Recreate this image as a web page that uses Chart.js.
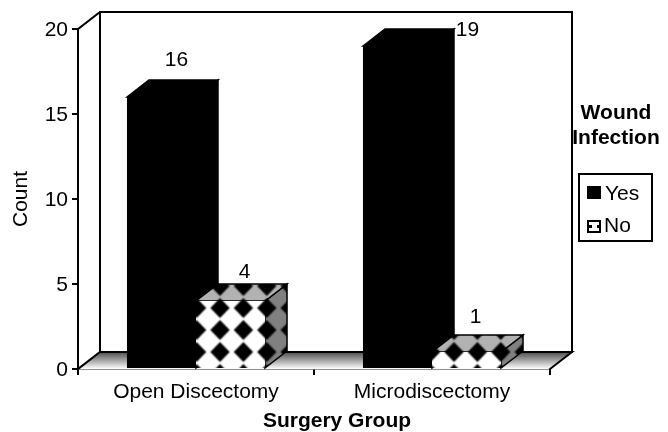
<!DOCTYPE html>
<html>
<head>
<meta charset="utf-8">
<title>Wound infection by surgery group</title>
<script src="https://cdn.jsdelivr.net/npm/chart.js@4"></script>
<style>
  html, body { margin: 0; padding: 0; background: #fff; }
  canvas { display: block; }
</style>
</head>
<body>
<canvas id="chart" width="668" height="432"></canvas>
<script>
/* values */
const categories = ["Open Discectomy", "Microdiscectomy"];
const yes_counts = [16, 19];
const no_counts = [4, 1];
const series_names = ["Yes", "No"];
const y_ticks = [0, 5, 10, 15, 20];

const FONT = "'Liberation Sans', Arial, sans-serif";
const DEPTH_X = 22, DEPTH_Y = 17;
const TILE_W = 23.4, TILE_H = 22;

/* diamond tile: light blobs with black diamonds on the corners */
function makeTile(light) {
  const c = document.createElement("canvas");
  c.width = 46; c.height = 44;
  const g = c.getContext("2d");
  g.fillStyle = light;
  g.fillRect(0, 0, 46, 44);
  g.filter = "blur(1.5px)";
  g.fillStyle = "#000";
  for (const [x, y] of [[0, 0], [46, 0], [0, 44], [46, 44]]) {
    g.beginPath();
    g.moveTo(x - 19, y); g.lineTo(x, y - 20); g.lineTo(x + 19, y); g.lineTo(x, y + 20);
    g.closePath();
    g.fill();
  }
  return c;
}

/* pattern pinned to the page so every bar shares one phase */
function makePattern(ctx, light) {
  const p = ctx.createPattern(makeTile(light), "repeat");
  p.setTransform(new DOMMatrix([TILE_W / 46, 0, 0, TILE_H / 44, 220, 330]));
  return p;
}

const canvas = document.getElementById("chart");
const ctx = canvas.getContext("2d");
const frontPattern = makePattern(ctx, "#fff");
const topPattern = makePattern(ctx, "#b2b2b2");
const sidePattern = makePattern(ctx, "#808080");

function poly(c, pts, fill, stroke, lw) {
  c.beginPath();
  pts.forEach((p, i) => i ? c.lineTo(p[0], p[1]) : c.moveTo(p[0], p[1]));
  c.closePath();
  if (fill) { c.fillStyle = fill; c.fill(); }
  if (stroke) { c.strokeStyle = stroke; c.lineWidth = lw; c.stroke(); }
}

/* extra offset of each value label from its bar, [Yes, No] per category */
const labelNudge = [
  [[15, -37], [14, -29]],
  [[70, -16], [9, -35]]
];

const threeD = {
  id: "threeD",
  beforeDatasetsDraw(chart) {
    const c = chart.ctx, a = chart.chartArea;
    const l = a.left, r = a.right, t = a.top, b = a.bottom;
    c.save();
    // floor
    const grad = c.createLinearGradient(0, b - DEPTH_Y, 0, b);
    grad.addColorStop(0, "#4d4d4d");
    grad.addColorStop(1, "#fff");
    poly(c, [[l, b], [l + DEPTH_X, b - DEPTH_Y], [r + DEPTH_X, b - DEPTH_Y], [r, b]], grad);
    // walls
    c.strokeStyle = "#000";
    c.lineWidth = 2;
    c.lineCap = "square";
    c.beginPath();
    c.moveTo(l, t); c.lineTo(l + DEPTH_X, t - DEPTH_Y);
    c.lineTo(r + DEPTH_X, t - DEPTH_Y); c.lineTo(r + DEPTH_X, b - DEPTH_Y);
    c.moveTo(l + DEPTH_X, t - DEPTH_Y); c.lineTo(l + DEPTH_X, b - DEPTH_Y);
    c.lineTo(r + DEPTH_X, b - DEPTH_Y); c.lineTo(r, b);
    c.moveTo(l + DEPTH_X, b - DEPTH_Y); c.lineTo(l, b);
    c.stroke();
    // side and top faces of the bars
    chart.getSortedVisibleDatasetMetas().forEach((meta, ds) => {
      meta.data.forEach(bar => {
        const x0 = bar.x - bar.width / 2, x1 = bar.x + bar.width / 2;
        const y0 = bar.y, y1 = bar.base;
        const side = [[x1, y0], [x1 + DEPTH_X, y0 - DEPTH_Y], [x1 + DEPTH_X, y1 - DEPTH_Y], [x1, y1]];
        const top = [[x0, y0], [x0 + DEPTH_X, y0 - DEPTH_Y], [x1 + DEPTH_X, y0 - DEPTH_Y], [x1, y0]];
        poly(c, side, ds ? sidePattern : "#000", "#000", 1.5);
        poly(c, top, ds ? topPattern : "#000", "#000", 1.5);
      });
    });
    c.restore();
  },
  afterDatasetsDraw(chart) {
    const c = chart.ctx, a = chart.chartArea;
    c.save();
    c.fillStyle = "#000";
    c.textBaseline = "middle";
    c.textAlign = "center";
    // value labels
    c.font = "21px " + FONT;
    chart.getSortedVisibleDatasetMetas().forEach((meta, ds) => {
      meta.data.forEach((bar, i) => {
        const n = labelNudge[i][ds];
        c.fillText(chart.data.datasets[ds].data[i], bar.x + n[0], bar.y + n[1]);
      });
    });
    // x axis title, centred under the whole box
    c.font = "bold 21px " + FONT;
    c.fillText("Surgery Group", (a.left + a.right) / 2 + DEPTH_X + 1, 421);
    // legend
    c.fillText("Wound", 616, 113);
    c.fillText("Infection", 616, 138);
    c.strokeStyle = "#000";
    c.lineWidth = 2;
    c.strokeRect(579, 174, 73, 67);
    c.fillRect(587, 186, 14, 13);
    c.fillRect(587, 220, 14, 13);
    c.fillStyle = "#fff";
    c.fillRect(589, 222, 10, 3);
    c.fillRect(592, 225, 5, 3);
    c.fillRect(589, 228, 10, 3);
    c.fillStyle = "#000";
    c.textAlign = "left";
    c.font = "21px " + FONT;
    c.fillText(chart.data.datasets[0].label, 605, 194);
    c.fillText(chart.data.datasets[1].label, 604, 226);
    c.restore();
  }
};

new Chart(canvas, {
  type: "bar",
  data: {
    labels: categories,
    datasets: [
      { label: series_names[0], data: yes_counts, backgroundColor: "#000", borderWidth: 0 },
      { label: series_names[1], data: no_counts, backgroundColor: frontPattern, borderWidth: 0 }
    ]
  },
  options: {
    responsive: false,
    animation: false,
    events: [],
    layout: { padding: { left: 0, right: 118, top: 29, bottom: 0 } },
    categoryPercentage: 0.585,
    barPercentage: 1,
    plugins: { legend: { display: false }, tooltip: { enabled: false } },
    scales: {
      x: {
        afterFit(s) { s.height = 63; },
        grid: { drawOnChartArea: false, color: "#000", lineWidth: 2, tickLength: 6 },
        border: { color: "#222", width: 1.5 },
        ticks: { color: "#000", font: { family: FONT, size: 21 }, maxRotation: 0, padding: 5 }
      },
      y: {
        min: 0,
        max: 20,
        afterFit(s) { s.width = 78; },
        afterBuildTicks(s) { s.ticks = y_ticks.map(v => ({ value: v })); },
        grid: { drawOnChartArea: false, color: "#000", lineWidth: 2, tickLength: 6 },
        border: { color: "#000", width: 2 },
        ticks: { color: "#000", font: { family: FONT, size: 21 }, padding: 4, labelOffset: 1.5 },
        title: { display: true, text: "Count", color: "#000", font: { family: FONT, size: 21 }, padding: { top: 9, bottom: 0 } }
      }
    }
  },
  plugins: [threeD]
});
</script>
</body>
</html>
